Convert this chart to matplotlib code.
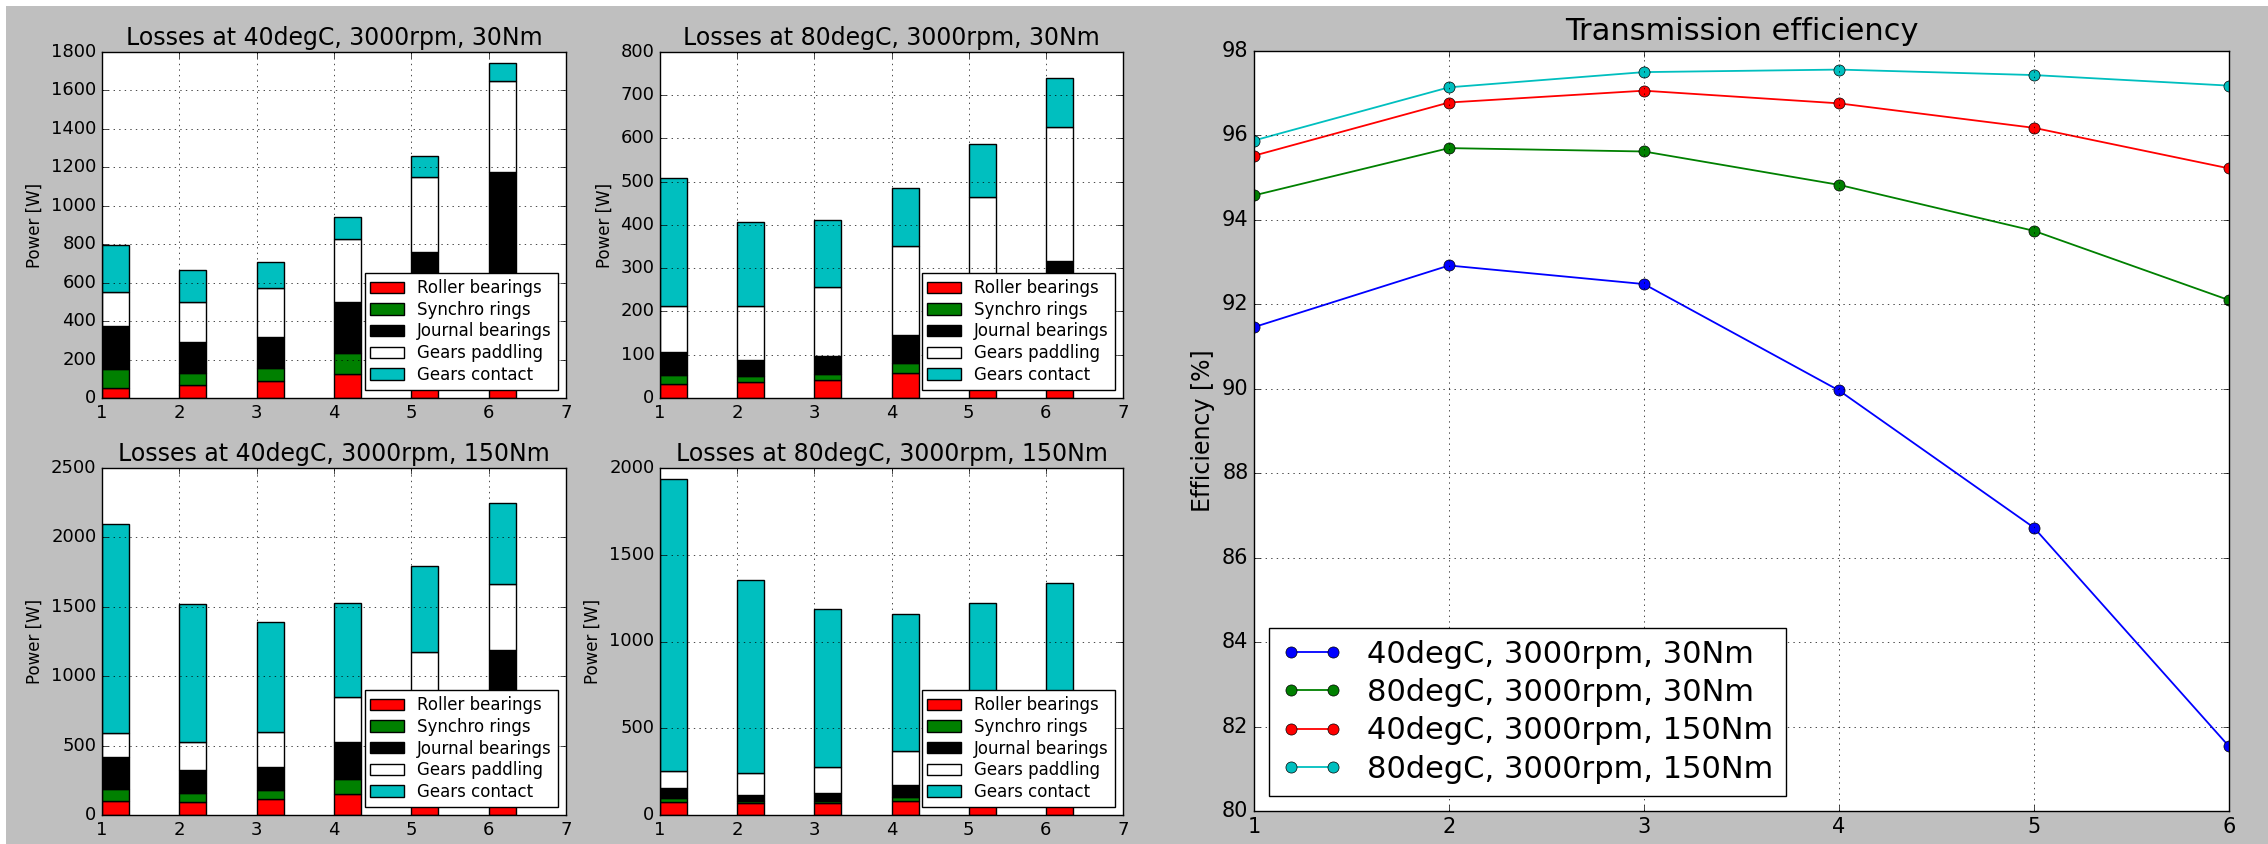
import matplotlib
matplotlib.use("Agg")
import matplotlib.pyplot as plt
from matplotlib.patches import Rectangle
import numpy as np

plt.style.use("classic")

# Gear numbers
gears = [1, 2, 3, 4, 5, 6]

components = ["Roller bearings", "Synchro rings", "Journal bearings",
              "Gears paddling", "Gears contact"]
comp_colors = ["r", "g", "k", "w", "c"]

# Loss breakdown per gear [W]
roller_40_30 = [52, 66, 90, 125, 160, 200]
synchro_40_30 = [99, 62, 66, 109, 100, 90]
journal_40_30 = [222, 162, 161, 264, 500, 886]
paddling_40_30 = [179, 208, 257, 329, 390, 475]
contact_40_30 = [246, 168, 134, 115, 109, 92]

roller_80_30 = [33, 36, 42, 58, 65, 75]
synchro_80_30 = [21, 14, 14, 23, 20, 18]
journal_80_30 = [52, 37, 40, 65, 125, 223]
paddling_80_30 = [106, 125, 160, 206, 255, 311]
contact_80_30 = [296, 194, 156, 134, 122, 113]

roller_40_150 = [103, 91, 113, 151, 170, 200]
synchro_40_150 = [84, 65, 67, 106, 90, 80]
journal_40_150 = [233, 168, 163, 268, 500, 910]
paddling_40_150 = [173, 199, 257, 322, 416, 473]
contact_40_150 = [1506, 996, 789, 677, 621, 583]

roller_80_150 = [73, 67, 67, 83, 90, 100]
synchro_80_150 = [23, 16, 14, 21, 20, 18]
journal_80_150 = [61, 34, 44, 67, 120, 180]
paddling_80_150 = [98, 123, 153, 199, 250, 250]
contact_80_150 = [1682, 1113, 912, 789, 741, 790]

# Transmission efficiency per gear [%]
eff_40_30 = [91.46, 92.92, 92.48, 89.96, 86.71, 81.53]
eff_80_30 = [94.58, 95.70, 95.62, 94.83, 93.74, 92.10]
eff_40_150 = [95.52, 96.78, 97.06, 96.76, 96.18, 95.22]
eff_80_150 = [95.88, 97.14, 97.50, 97.56, 97.43, 97.18]

case_labels = ["40degC, 3000rpm, 30Nm", "80degC, 3000rpm, 30Nm",
               "40degC, 3000rpm, 150Nm", "80degC, 3000rpm, 150Nm"]
eff_colors = ["b", "g", "r", "c"]

W, H = 2268, 844
fig = plt.figure(figsize=(W / 100, H / 100), dpi=100)
fig.patch.set_facecolor("#bfbfbf")

# thin white strip along the top and left edge
fig.patches.append(Rectangle((0, 1 - 6 / H), 1, 6 / H, transform=fig.transFigure,
                             facecolor="white", edgecolor="none", zorder=0))
fig.patches.append(Rectangle((0, 0), 6 / W, 1, transform=fig.transFigure,
                             facecolor="white", edgecolor="none", zorder=0))


def fpos(x0, x1, y0, y1):
    return [x0 / W, 1 - y1 / H, (x1 - x0) / W, (y1 - y0) / H]


panels = [
    (fpos(102, 566, 52, 398), "Losses at 40degC, 3000rpm, 30Nm",
     [roller_40_30, synchro_40_30, journal_40_30, paddling_40_30, contact_40_30],
     1800, 200),
    (fpos(660, 1123, 52, 398), "Losses at 80degC, 3000rpm, 30Nm",
     [roller_80_30, synchro_80_30, journal_80_30, paddling_80_30, contact_80_30],
     800, 100),
    (fpos(102, 566, 468, 815), "Losses at 40degC, 3000rpm, 150Nm",
     [roller_40_150, synchro_40_150, journal_40_150, paddling_40_150, contact_40_150],
     2500, 500),
    (fpos(660, 1123, 468, 815), "Losses at 80degC, 3000rpm, 150Nm",
     [roller_80_150, synchro_80_150, journal_80_150, paddling_80_150, contact_80_150],
     2000, 500),
]

for pos, title, stacks, ymax, ystep in panels:
    ax = fig.add_axes(pos)
    bottom = np.zeros(len(gears))
    for vals, name, col in zip(stacks, components, comp_colors):
        ax.bar(gears, vals, width=0.35, bottom=bottom, align="edge",
               color=col, edgecolor="k", linewidth=1.0, label=name)
        bottom += np.array(vals)
    ax.set_xlim(1, 7)
    ax.set_ylim(0, ymax)
    ax.set_yticks(np.arange(0, ymax + 1, ystep))
    ax.set_xticks(range(1, 8))
    ax.grid(True)
    ax.set_axisbelow(False)
    ax.tick_params(labelsize=13)
    ax.set_title(title, fontsize=17, pad=5)
    ax.set_ylabel("Power [W]", fontsize=12)
    ax.legend(loc="lower right", fontsize=12, labelspacing=0.22,
              borderpad=0.35, handleheight=0.65)

# Efficiency panel
ax = fig.add_axes(fpos(1254, 2229, 51, 811))
for vals, lab, col in zip([eff_40_30, eff_80_30, eff_40_150, eff_80_150],
                          case_labels, eff_colors):
    ax.plot(gears, vals, "-o", color=col, linewidth=1.3, markersize=8,
            markeredgecolor="k", markeredgewidth=0.5, label=lab)
ax.set_xlim(1, 6)
ax.set_ylim(80, 98)
ax.set_xticks(range(1, 7))
ax.set_yticks(range(80, 99, 2))
ax.grid(True)
ax.tick_params(labelsize=15)
ax.set_title("Transmission efficiency", fontsize=22, pad=8)
ax.set_ylabel("Efficiency [%]", fontsize=17)
ax.legend(loc="lower left", fontsize=22, labelspacing=0.3)

fig.savefig("out.png", dpi=100, facecolor=fig.get_facecolor())
